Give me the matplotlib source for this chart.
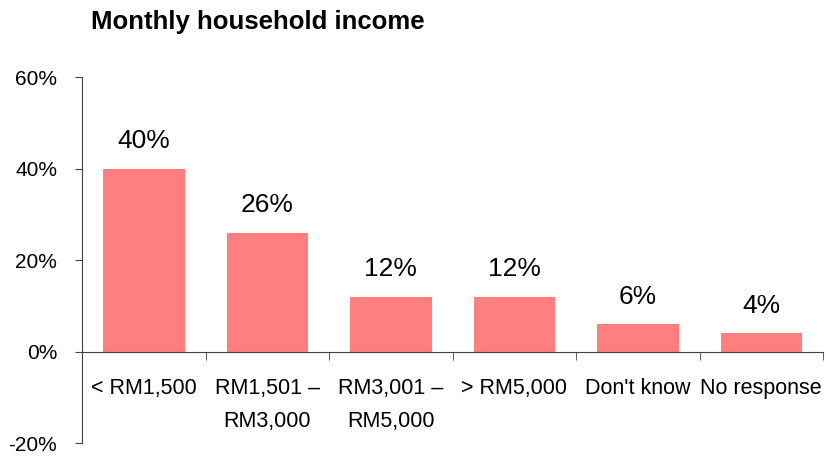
import matplotlib.pyplot as plt
from matplotlib.ticker import FixedLocator

categories = ["< RM1,500", "RM1,501 –\nRM3,000", "RM3,001 –\nRM5,000",
              "> RM5,000", "Don't know", "No response"]
values = [40, 26, 12, 12, 6, 4]
y_ticks = [-20, 0, 20, 40, 60]

plt.rcParams['font.family'] = ['Liberation Sans', 'DejaVu Sans']

fig = plt.figure(figsize=(8.26, 4.62), dpi=100)
ax = fig.add_axes([0.0993, 0.0411, 0.8971, 0.7922])

x = list(range(len(categories)))
bars = ax.bar(x, values, width=0.66, color='#FF7F7F')
for rect, v in zip(bars, values):
    ax.annotate(f"{v}%", (rect.get_x() + rect.get_width() / 2, v),
                xytext=(0, 11), textcoords='offset points',
                ha='center', va='bottom', fontsize=19)

ax.set_xlim(-0.5, len(categories) - 0.5)
ax.set_ylim(-20, 60)
ax.set_yticks(y_ticks)
ax.set_yticklabels([f"{t}%" for t in y_ticks])
ax.tick_params(axis='y', direction='out', length=5, pad=13, color='#404040',
               labelsize=15)

# category labels drawn as text so the two-line ones get wider line spacing
ax.set_xticks([])
ax.xaxis.set_minor_locator(FixedLocator([i - 0.5 for i in range(len(categories) + 1)]))
ax.tick_params(axis='x', which='minor', direction='out', length=6, color='#404040')
for i, cat in enumerate(categories):
    ax.annotate(cat, (i, 0), xytext=(0, -19), textcoords='offset points',
                ha='center', va='top', fontsize=15.5, linespacing=1.75,
                annotation_clip=False)

ax.spines['top'].set_visible(False)
ax.spines['right'].set_visible(False)
ax.spines['bottom'].set_position(('data', 0))
ax.spines['bottom'].set_color('#404040')
ax.spines['left'].set_color('#404040')

fig.text(0.110, 0.952, "Monthly household income", fontsize=18.5,
         fontweight='bold', ha='left', va='center')

fig.savefig("out.png", dpi=100)
